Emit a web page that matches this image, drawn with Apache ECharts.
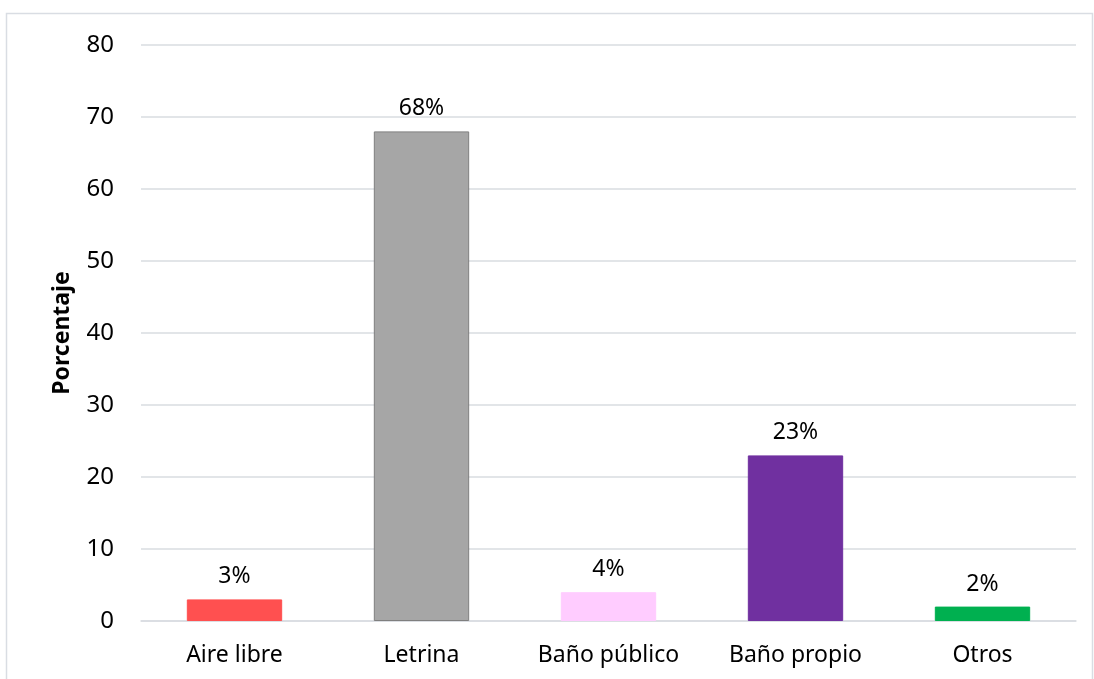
<!DOCTYPE html>
<html>
<head>
<meta charset="utf-8">
<script src="https://cdn.jsdelivr.net/npm/echarts@6/dist/echarts.min.js"></script>
<style>
  html, body { margin: 0; padding: 0; background: #fff; }
  #chart { width: 1094px; height: 679px; }
</style>
</head>
<body>
<div id="chart"></div>
<script>
// Tipo de servicio higiénico (porcentaje de hogares)
const categories = ['Aire libre', 'Letrina', 'Baño público', 'Baño propio', 'Otros'];
const values = [3, 68, 4, 23, 2];
const barColors = ['#FF5050', '#A6A6A6', '#FFCCFF', '#7030A0', '#00B050'];
const barBorders = ['#FF5050', '#7F7F7F', '#FFCCFF', '#7030A0', '#00B050'];
const yTicks = [0, 10, 20, 30, 40, 50, 60, 70, 80];

const font = '"Noto Sans", "Liberation Sans", sans-serif';
const chart = echarts.init(document.getElementById('chart'), null, { renderer: 'canvas' });

chart.setOption({
  animation: false,
  backgroundColor: '#fff',
  graphic: [{
    type: 'rect',
    shape: { x: 6.5, y: 13.5, width: 1086, height: 700 },
    style: { fill: 'none', stroke: '#D9DDE3', lineWidth: 1.5 },
    silent: true
  }],
  grid: { left: 141, right: 18, top: 45, bottom: 58 },
  xAxis: {
    type: 'category',
    data: categories,
    axisLine: { show: true, lineStyle: { color: '#D9DCE1', width: 1.5 } },
    axisTick: { show: false },
    axisLabel: { color: '#000', fontFamily: font, fontSize: 23, margin: 23 }
  },
  yAxis: {
    type: 'value',
    min: yTicks[0],
    max: yTicks[yTicks.length - 1],
    interval: 10,
    name: 'Porcentaje',
    nameLocation: 'middle',
    nameGap: 67,
    nameTextStyle: { color: '#000', fontFamily: font, fontSize: 23, fontWeight: 'bold' },
    axisLine: { show: false },
    axisTick: { show: false },
    axisLabel: { color: '#000', fontFamily: font, fontSize: 24, margin: 27 },
    splitLine: { lineStyle: { color: '#D9DCE1', width: 1.5 } }
  },
  series: [{
    type: 'bar',
    barWidth: '51%',
    data: values.map((v, i) => ({
      value: v,
      itemStyle: { color: barColors[i], borderColor: barBorders[i], borderWidth: 1 }
    })),
    label: {
      show: true,
      position: 'top',
      distance: 11,
      formatter: p => p.value + '%',
      color: '#000',
      fontFamily: font,
      fontSize: 23
    }
  }]
});
</script>
</body>
</html>
